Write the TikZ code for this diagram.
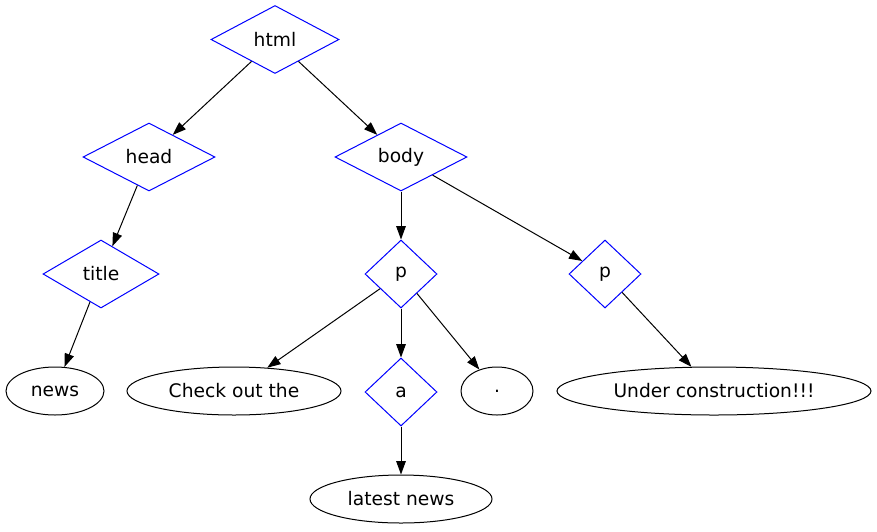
\documentclass[tikz,border=0pt]{standalone}
\usepackage{fontspec}
\setmainfont{DejaVu Sans}
\usetikzlibrary{arrows.meta,shapes.geometric}

\tikzset{
  tag/.style={shape=diamond,draw=blue,inner sep=0pt,minimum height=68},
  leaf/.style={shape=ellipse,draw=black,inner sep=0pt,minimum height=48},
  edge/.style={-{Triangle[length=13.3pt,width=9.5pt]}}
}

\begin{document}
\begin{tikzpicture}[x=1pt,y=-1pt,line width=1pt,font=\fontsize{18.67}{22}\selectfont]
\path[use as bounding box] (0,0) rectangle (877,531);
% tag nodes
\node[tag,minimum width=128] (html) at (275,39.5) {html};
\node[tag,minimum width=132] (head) at (149,157) {head};
\node[tag,minimum width=132] (body) at (401,157) {body};
\node[tag,minimum width=116] (title) at (101,274) {title};
\node[tag,minimum width=72] (p1) at (401,274) {p};
\node[tag,minimum width=72] (p2) at (605,274) {p};
\node[tag,minimum width=72] (a) at (401,392) {a};
% text leaves
\node[leaf,minimum width=98] (news) at (55,391) {news};
\node[leaf,minimum width=214] (check) at (234,391) {Check out the};
\node[leaf,minimum width=72] (dot) at (497,391) {.};
\node[leaf,minimum width=314] (under) at (714,391) {Under construction!!!};
\node[leaf,minimum width=182] (latest) at (401,499) {latest news};
% edges
\draw[edge] (html) -- (head);
\draw[edge] (html) -- (body);
\draw[edge] (head) -- (title);
\draw[edge] (title) -- (news);
\draw[edge] (body) -- (p1);
\draw[edge] (body) -- (p2);
\draw[edge] (p1) -- (check);
\draw[edge] (p1) -- (a);
\draw[edge] (p1) -- (dot);
\draw[edge] (p2) -- (under);
\draw[edge] (a) -- (latest);
\end{tikzpicture}
\end{document}
